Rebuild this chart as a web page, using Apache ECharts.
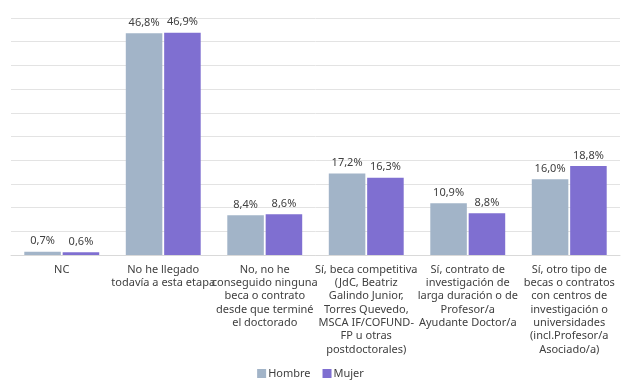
<!DOCTYPE html>
<html>
<head>
<meta charset="utf-8">
<script src="https://cdn.jsdelivr.net/npm/echarts@6/dist/echarts.min.js"></script>
<style>
  html, body { margin: 0; padding: 0; background: #fff; }
  #chart { width: 621px; height: 380px; }
</style>
</head>
<body>
<div id="chart"></div>
<script>
var categories = [
  "NC",
  "No he llegado\ntodavía a esta etapa",
  "No, no he\nconseguido ninguna\nbeca o contrato\ndesde que terminé\nel doctorado",
  "Sí, beca competitiva\n(JdC, Beatriz\nGalindo Junior,\nTorres Quevedo,\nMSCA IF/COFUND-\nFP u otras\npostdoctorales)",
  "Sí, contrato de\ninvestigación de\nlarga duración o de\nProfesor/a\nAyudante Doctor/a",
  "Sí, otro tipo de\nbecas o contratos\ncon centros de\ninvestigación o\nuniversidades\n(incl.Profesor/a\nAsociado/a)"
];
var hombre = [0.7, 46.8, 8.4, 17.2, 10.9, 16.0];
var mujer = [0.6, 46.9, 8.6, 16.3, 8.8, 18.8];

var textColor = "#404040";
var fontFam = "'Noto Sans', Lato, sans-serif";

// etiqueta con coma decimal
function fmt(p) {
  return p.value.toFixed(1).replace(".", ",") + "%";
}

var chart = echarts.init(document.getElementById("chart"));
chart.setOption({
  animation: false,
  textStyle: { fontFamily: fontFam },
  grid: { left: 11, right: 1, top: 18, bottom: 125, containLabel: false },
  legend: {
    top: 366,
    left: "center",
    icon: "rect",
    itemWidth: 9,
    itemHeight: 9,
    itemGap: 12,
    padding: 2,
    textStyle: { color: textColor, fontSize: 11, fontFamily: fontFam, padding: [0, 0, 0, -3] },
    data: ["Hombre", "Mujer"]
  },
  xAxis: {
    type: "category",
    data: categories,
    axisTick: { show: false },
    axisLine: { lineStyle: { color: "#d9d9d9", width: 1 } },
    axisLabel: {
      interval: 0,
      margin: 8,
      color: textColor,
      fontSize: 11,
      lineHeight: 13.3,
      fontFamily: fontFam,
      align: "center"
    }
  },
  yAxis: {
    type: "value",
    min: 0,
    max: 50,
    interval: 5,
    axisLabel: { show: false },
    axisLine: { show: false },
    axisTick: { show: false },
    splitLine: { lineStyle: { color: "#e3e3e3", width: 1 } }
  },
  series: [
    {
      name: "Hombre",
      type: "bar",
      data: hombre,
      barWidth: "36%",
      barGap: "5%",
      itemStyle: { color: "#a2b4c8" },
      label: { show: true, position: "top", distance: 5, color: textColor, fontSize: 11, fontFamily: fontFam, formatter: fmt }
    },
    {
      name: "Mujer",
      type: "bar",
      data: mujer,
      barWidth: "36%",
      itemStyle: { color: "#7f6fd1" },
      label: { show: true, position: "top", distance: 5, color: textColor, fontSize: 11, fontFamily: fontFam, formatter: fmt }
    }
  ]
});
</script>
</body>
</html>
